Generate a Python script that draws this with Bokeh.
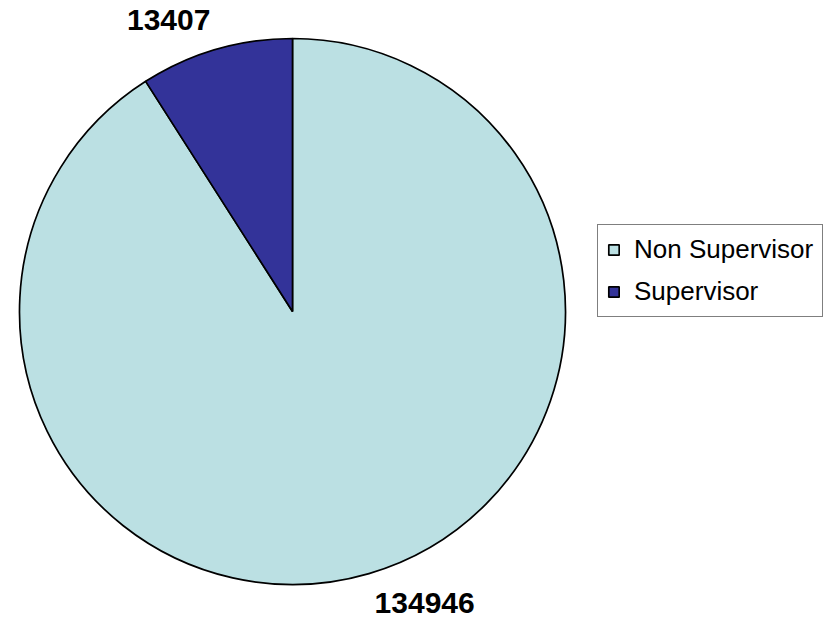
import math
from bokeh.plotting import figure
from bokeh.models import ColumnDataSource, Legend, LegendItem
from bokeh.core.properties import value
from bokeh.embed import file_html
from bokeh.resources import INLINE

categories = ["Non Supervisor", "Supervisor"]
counts = [134946, 13407]
colors = ["#BBE0E3", "#333399"]

W, H = 823, 619
cx, cy, r = 292, 308, 273

total = sum(counts)
# Excel pie: starts at 12 o'clock, runs clockwise; Supervisor ends at 12 o'clock
starts, ends, mids = [], [], []
a = math.pi / 2
for c in counts:
    span = 2 * math.pi * c / total
    starts.append(a - span)
    ends.append(a)
    mids.append(a - span / 2)
    a -= span

src = ColumnDataSource(dict(cat=categories, val=counts, color=colors,
                            start=starts, end=ends,
                            x=[cx] * len(counts), y=[cy] * len(counts)))

p = figure(width=W, height=H, x_range=(0, W), y_range=(0, H),
           output_backend="svg", toolbar_location=None,
           min_border=0, outline_line_color=None)
p.axis.visible = False
p.grid.visible = False
p.background_fill_color = "white"

wr = p.wedge(x="x", y="y", radius=r, start_angle="start", end_angle="end",
             fill_color="color", line_color="black", line_width=1.7, source=src)

# data labels, placed outside the slice at its mid-angle
pad = 20
lx, ly, al, bl, txt = [], [], [], [], []
for m, c in zip(mids, counts):
    lx.append(cx + (r + pad) * math.cos(m))
    ly.append(cy + (r + pad) * math.sin(m))
    al.append("left" if math.cos(m) >= 0 else "right")
    bl.append("bottom" if math.sin(m) >= 0 else "top")
    txt.append(str(c))
lsrc = ColumnDataSource(dict(x=lx, y=ly, t=txt, a=al, b=bl))
p.text(x="x", y="y", text="t", text_align="a", text_baseline="b",
       text_font=value("Liberation Sans"), text_font_style="bold",
       text_font_size="30px", text_color="black", source=lsrc)

legend = Legend(items=[LegendItem(label=categories[i], renderers=[wr], index=i)
                       for i in range(len(categories))],
                location=(597, 302))
legend.label_text_font = "Liberation Sans"
legend.label_text_font_size = "26px"
legend.label_text_color = "black"
legend.glyph_width = 13
legend.glyph_height = 13
legend.label_standoff = 14
legend.spacing = 11
legend.padding = 9
legend.margin = 0
legend.border_line_color = "black"
legend.border_line_width = 1.5
legend.background_fill_alpha = 1
p.add_layout(legend)

open("out.html", "w").write(file_html(p, INLINE))
